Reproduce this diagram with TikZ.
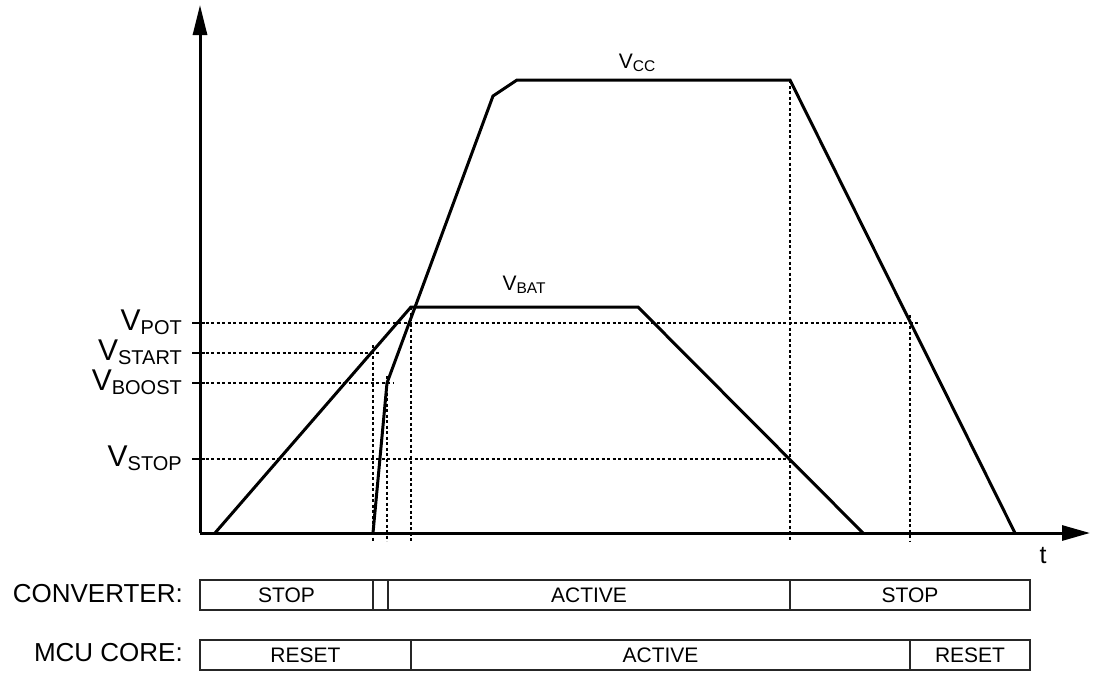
\documentclass[tikz,border=0pt]{standalone}
\usepackage{fontspec}
\setmainfont{Liberation Sans}
\usetikzlibrary{arrows.meta, positioning}

\newcommand{\vsub}[1]{{\fontsize{30}{30}\selectfont V}\raisebox{-4pt}{\fontsize{20}{20}\selectfont #1}}
\newcommand{\vsmall}[1]{{\fontsize{21}{21}\selectfont V}\raisebox{-3pt}{\fontsize{15.5}{15.5}\selectfont #1}}

\begin{document}
\begin{tikzpicture}[x=1pt, y=-1pt,
    curve/.style={line width=3pt, line join=miter},
    guide/.style={line width=1.1pt, dash pattern=on 3pt off 2.5pt},
    phase/.style={draw=black!85, line width=1.3pt, minimum height=30pt,
      inner sep=0pt, outer sep=0pt, font=\fontsize{21}{21}\selectfont},
    rowlabel/.style={anchor=east, inner sep=0pt, font=\fontsize{26}{26}\selectfont}]
    \useasboundingbox (0,0) rectangle (1101,673);

    % axes
    \coordinate (o) at (200,533);
    \draw[line width=3pt, -{Triangle[length=30pt,width=14pt]}] (o) -- (200,5) coordinate (ytip);
    \draw[line width=3pt, -{Triangle[length=28pt,width=15pt]}] (o) -- (1090,533) coordinate (xtip);
    \node[inner sep=0pt, font=\fontsize{25}{25}\selectfont] (tlab) at (1043,556) {t};

    % levels
    \draw[line width=1.5pt] (192,323) -- (205,323);
    \draw[line width=1.5pt] (192,353) -- (205,353);
    \draw[line width=1.5pt] (192,383) -- (205,383);
    \draw[line width=1.5pt] (192,459) -- (205,459);
    \node[anchor=east, inner sep=0pt] (vpot) at (182,322) {\vsub{POT}};
    \node[anchor=east, inner sep=0pt] (vstart) at (182,352) {\vsub{START}};
    \node[anchor=east, inner sep=0pt] (vboost) at (182,382) {\vsub{BOOST}};
    \node[anchor=east, inner sep=0pt] (vstop) at (182,458) {\vsub{STOP}};

    % dotted guides
    \draw[guide] (200,323) -- (920,323);
    \draw[guide] (200,353) -- (380,353);
    \draw[guide] (200,383) -- (394,383);
    \draw[guide] (200,459) -- (790,459);
    \draw[guide] (373,345) -- (373,541);
    \draw[guide] (387,376) -- (387,541);
    \draw[guide] (411,307) -- (411,541);
    \draw[guide] (790,80) -- (790,541);
    \draw[guide] (910,315) -- (910,541);

    % supply curves
    \draw[curve] (215,533) -- (411,307) -- (638,307) -- (863,533);
    \draw[curve] (373,533) -- (387,383) -- (493,96) -- (517,80) -- (790,80) -- (1015,533);
    \node[inner sep=0pt] (vbat) at (524,285) {\vsmall{BAT}};
    \node[inner sep=0pt] (vcc) at (637,63) {\vsmall{CC}};

    % converter state
    \node[rowlabel] (conv) at (183,594) {CONVERTER:};
    \node[phase, minimum width=173pt, anchor=west] (cstop) at (200,595) {STOP};
    \node[phase, minimum width=15pt, right=0pt of cstop] (cwait) {};
    \node[phase, minimum width=402pt, right=0pt of cwait] (cact) {ACTIVE};
    \node[phase, minimum width=240pt, right=0pt of cact] (cend) {STOP};

    % mcu state
    \node[rowlabel] (mcu) at (183,653) {MCU CORE:};
    \node[phase, minimum width=211pt, anchor=west] (mreset) at (200,655) {RESET};
    \node[phase, minimum width=499pt, right=0pt of mreset] (mact) {ACTIVE};
    \node[phase, minimum width=120pt, right=0pt of mact] (mend) {RESET};
\end{tikzpicture}
\end{document}
